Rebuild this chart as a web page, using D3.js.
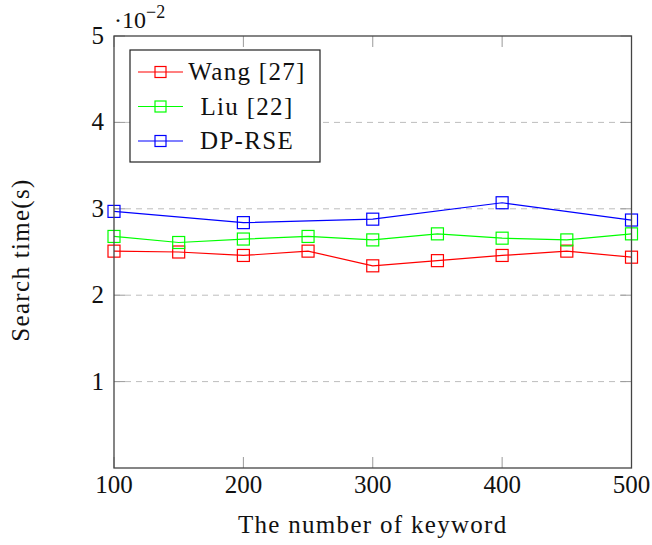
<!DOCTYPE html>
<html>
<head>
<meta charset="utf-8">
<script src="https://cdn.jsdelivr.net/npm/d3@7"></script>
<style>
  body { margin: 0; background: #fff; }
  text { font-family: "Liberation Serif", "DejaVu Serif", serif; fill: #111; }
  .words { letter-spacing: 1.3px; }
</style>
</head>
<body>
<div id="chart"></div>
<script>
const width = 652, height = 545;
const margin = {top: 36, right: 20, bottom: 77, left: 114};

// keyword counts on x
const keywords = [100, 150, 200, 250, 300, 350, 400, 450, 500];
// search time in seconds
const wang = [0.0251, 0.0250, 0.0246, 0.0251, 0.0234, 0.0240, 0.0246, 0.0251, 0.0244];
const liu = [0.0268, 0.0261, 0.0265, 0.0268, 0.0264, 0.0271, 0.0266, 0.0264, 0.0271];
const dprse = [0.0297, 0.0284, 0.0288, 0.0307, 0.0287];
const dprseKeys = [100, 200, 300, 400, 500];
const xTicks = [100, 200, 300, 400, 500];
const yTicks = [0.01, 0.02, 0.03, 0.04, 0.05];

const series = [
  {name: "Wang [27]", color: "#ff0000", xs: keywords, ys: wang},
  {name: "Liu [22]", color: "#00ff00", xs: keywords, ys: liu},
  {name: "DP-RSE", color: "#0000ff", xs: dprseKeys, ys: dprse}
];

const svg = d3.select("#chart").append("svg")
  .attr("width", width)
  .attr("height", height);

const x = d3.scaleLinear().domain([100, 500]).range([margin.left, width - margin.right - 0.5]);
const y = d3.scaleLinear().domain([0, 0.05]).range([height - margin.bottom, margin.top]);

const x0 = x.range()[0], x1 = x.range()[1];
const y0 = y.range()[0], y1 = y.range()[1];
const tickLen = 11;

// grid lines
svg.append("g")
  .selectAll("line")
  .data(yTicks.filter(d => d < 0.05))
  .enter()
  .append("line")
    .attr("x1", x0).attr("x2", x1)
    .attr("y1", d => y(d)).attr("y2", d => y(d))
    .attr("stroke", "#bdbdbd")
    .attr("stroke-width", 1)
    .style("stroke-dasharray", "6,5");

// inward ticks on all four sides
const ticks = svg.append("g").attr("stroke", "#9a9a9a").attr("stroke-width", 1);
xTicks.forEach(t => {
  ticks.append("line").attr("x1", x(t)).attr("x2", x(t)).attr("y1", y0).attr("y2", y0 - tickLen);
  ticks.append("line").attr("x1", x(t)).attr("x2", x(t)).attr("y1", y1).attr("y2", y1 + tickLen);
});
yTicks.forEach(t => {
  ticks.append("line").attr("x1", x0).attr("x2", x0 + tickLen).attr("y1", y(t)).attr("y2", y(t));
  ticks.append("line").attr("x1", x1).attr("x2", x1 - tickLen).attr("y1", y(t)).attr("y2", y(t));
});

// series lines and square markers
const line = d3.line().x(d => x(d[0])).y(d => y(d[1]));
series.forEach(s => {
  const pts = s.xs.map((k, i) => [k, s.ys[i]]);
  svg.append("path")
    .datum(pts)
    .attr("d", line)
    .attr("fill", "none")
    .attr("stroke", s.color)
    .attr("stroke-width", 1.2);
  svg.append("g")
    .selectAll("rect")
    .data(pts)
    .enter()
    .append("rect")
      .attr("x", d => x(d[0]) - 6)
      .attr("y", d => y(d[1]) - 6)
      .attr("width", 12)
      .attr("height", 12)
      .attr("fill", "none")
      .attr("stroke", s.color)
      .attr("stroke-width", 1.2);
});

// frame
svg.append("rect")
  .attr("x", x0).attr("y", y1)
  .attr("width", x1 - x0).attr("height", y0 - y1)
  .attr("fill", "none")
  .attr("stroke", "#444")
  .attr("stroke-width", 1.3);

// tick labels
svg.append("g")
  .selectAll("text")
  .data(xTicks)
  .enter()
  .append("text")
    .attr("x", d => x(d))
    .attr("y", y0 + 25)
    .attr("text-anchor", "middle")
    .style("font-size", "25px")
    .text(d => d);

svg.append("g")
  .selectAll("text")
  .data(yTicks)
  .enter()
  .append("text")
    .attr("x", x0 - 10)
    .attr("y", d => y(d) + 8)
    .attr("text-anchor", "end")
    .style("font-size", "25px")
    .text(d => Math.round(d * 100));

// exponent label
const expo = svg.append("text")
  .attr("x", x0)
  .attr("y", 28)
  .style("font-size", "24px");
expo.append("tspan").text("·10");
expo.append("tspan").attr("dy", -10).style("font-size", "18px").text("−2");

// axis titles
svg.append("text")
  .attr("class", "words")
  .attr("x", (x0 + x1) / 2)
  .attr("y", 533)
  .attr("text-anchor", "middle")
  .style("font-size", "25px")
  .text("The number of keyword");

svg.append("text")
  .attr("class", "words")
  .attr("transform", `translate(29, ${(y0 + y1) / 2 + 8}) rotate(-90)`)
  .attr("text-anchor", "middle")
  .style("font-size", "25px")
  .text("Search time(s)");

// legend
const legend = svg.append("g");
legend.append("rect")
  .attr("x", 130).attr("y", 50)
  .attr("width", 190).attr("height", 112)
  .attr("fill", "#fff")
  .attr("stroke", "#222")
  .attr("stroke-width", 1.2);

series.forEach((s, i) => {
  const ly = 72 + i * 34.5;
  legend.append("line")
    .attr("x1", 138).attr("x2", 183)
    .attr("y1", ly).attr("y2", ly)
    .attr("stroke", s.color)
    .attr("stroke-width", 1.2);
  legend.append("rect")
    .attr("x", 155).attr("y", ly - 5.5)
    .attr("width", 11).attr("height", 11)
    .attr("fill", "none")
    .attr("stroke", s.color)
    .attr("stroke-width", 1.2);
  legend.append("text")
    .attr("class", "words")
    .attr("x", 247)
    .attr("y", ly + 8)
    .attr("text-anchor", "middle")
    .style("font-size", "25px")
    .text(s.name);
});
</script>
</body>
</html>
